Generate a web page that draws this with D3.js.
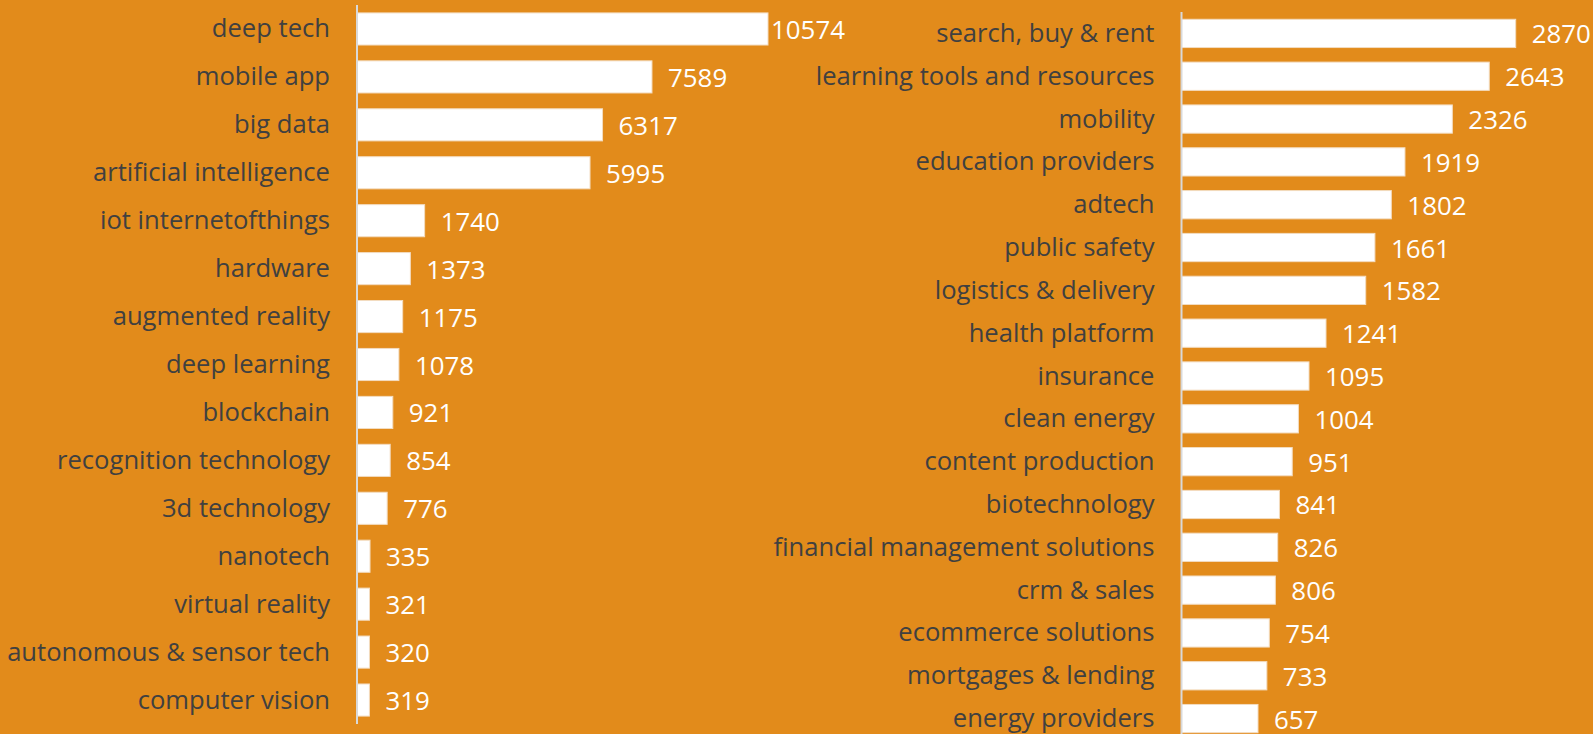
<!DOCTYPE html>
<html><head><meta charset="utf-8">
<script src="https://cdn.jsdelivr.net/npm/d3@7"></script>
<style>html,body{margin:0;padding:0;background:#E28B1B;overflow:hidden}svg{display:block}</style>
</head><body>
<svg id="c" width="1593" height="734"></svg>
<script>
const leftCategories = ["deep tech","mobile app","big data","artificial intelligence","iot internetofthings","hardware","augmented reality","deep learning","blockchain","recognition technology","3d technology","nanotech","virtual reality","autonomous & sensor tech","computer vision"];
const leftValues = [10574,7589,6317,5995,1740,1373,1175,1078,921,854,776,335,321,320,319];
const rightCategories = ["search, buy & rent","learning tools and resources","mobility","education providers","adtech","public safety","logistics & delivery","health platform","insurance","clean energy","content production","biotechnology","financial management solutions","crm & sales","ecommerce solutions","mortgages & lending","energy providers"];
const rightValues = [2870,2643,2326,1919,1802,1661,1582,1241,1095,1004,951,841,826,806,754,733,657];

const svg = d3.select("#c");
const font = "'Open Sans', sans-serif";

function panel(cats, vals, o) {
  const g = svg.append("g");
  const y = d3.scaleBand().domain(cats).range([o.y0, o.y1]).paddingInner(o.pad).paddingOuter(o.pad/2);
  const x = d3.scaleLinear().domain([0, d3.max(vals)]).range([o.x0, o.xMaxEnd]);
  g.selectAll("rect").data(cats).join("rect")
    .attr("x", x(0)).attr("y", d => y(d))
    .attr("width", (d,i) => x(vals[i]) - x(0)).attr("height", y.bandwidth())
    .attr("fill", "#ffffff").attr("stroke", "#f3dcc0").attr("stroke-width", 1);
  g.append("line").attr("x1", x(0)).attr("x2", x(0)).attr("y1", o.ay0).attr("y2", o.ay1)
    .attr("stroke", "#d9d9d9").attr("stroke-width", 2);
  g.selectAll("text.cat").data(cats).join("text").attr("class","cat")
    .attr("x", x(0) - 27).attr("y", d => y(d) + y.bandwidth()/2 - 1)
    .attr("text-anchor", "end").attr("dominant-baseline", "central")
    .attr("font-family", font).attr("font-size", 25.6).attr("fill", "#404040").text(d => d);
  g.selectAll("text.val").data(cats).join("text").attr("class","val")
    .attr("x", (d,i) => Math.min(x(vals[i]) + 16, o.labelMax))
    .attr("y", d => y(d) + y.bandwidth()/2)
    .attr("dominant-baseline", "central")
    .attr("font-family", font).attr("font-size", 25.9).attr("fill", "#ffffff").text((d,i) => vals[i]);
}

panel(leftCategories, leftValues, {y0: 5, y1: 724, pad: 0.33, x0: 357, xMaxEnd: 768, ay0: 5, ay1: 724, labelMax: 771});
panel(rightCategories, rightValues, {y0: 12, y1: 740, pad: 0.34, x0: 1181.5, xMaxEnd: 1515.7, ay0: 12, ay1: 734, labelMax: 2000});
</script>
</body></html>
